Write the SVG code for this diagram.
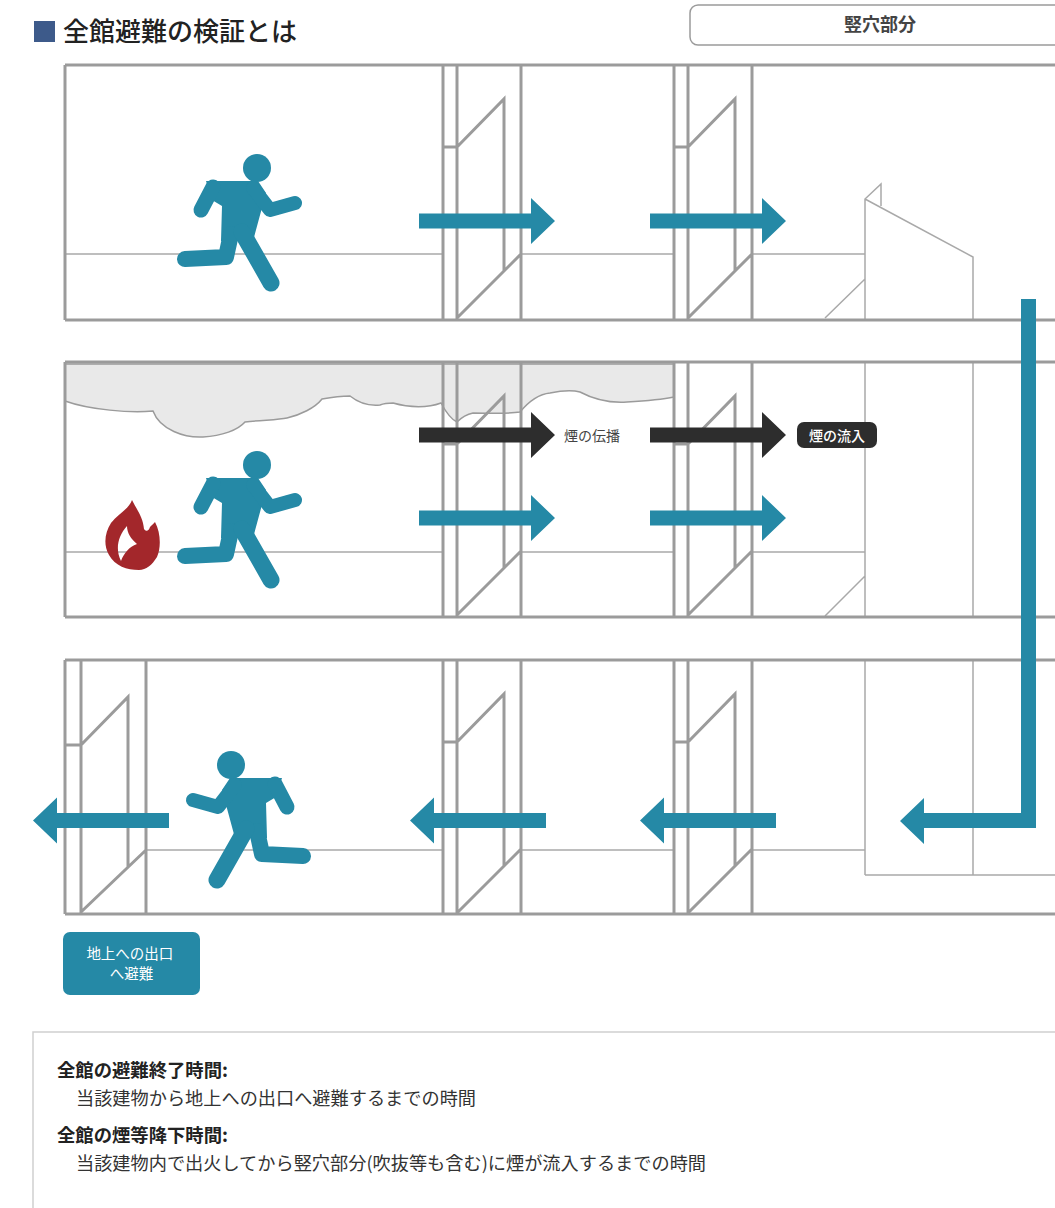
<svg xmlns="http://www.w3.org/2000/svg" xmlns:xlink="http://www.w3.org/1999/xlink" width="1055" height="1208" viewBox="0 0 1055 1208">
  <style>
    .wall { stroke:#9b9b9b; stroke-width:3; fill:none; }
    .thin { stroke:#a9a9a9; stroke-width:1.5; fill:none; }
    .teal { fill:#2589a6; }
    .dark { fill:#2d2d2d; }
    .jp { font-family:"Noto Sans CJK JP","Noto Sans",sans-serif; }
    .body { font-size:18px; fill:#333; }
    .head { font-size:18px; font-weight:bold; fill:#222; }
  </style>
  <defs>
    <!-- door frame with an opened door leaf, local origin = frame's top-left, floor height 255 -->
    <g id="door" class="wall">
      <path d="M0,0 V255 M14,0 V255 M78,0 V255 M0,82 H14 M14,82 L61,34 V206 M14,253 L78,189"/>
    </g>
    <!-- running pictogram -->
    <g id="runner" class="teal">
      <circle cx="257" cy="168" r="14"/>
      <polygon points="206,181 258,181 266,193 253,241 221,241 222,206 212,200"/>
      <g fill="none" stroke="#2589a6" stroke-linecap="round" stroke-linejoin="round">
        <path d="M213,187 L201,210" stroke-width="15"/>
        <path d="M253,188 L270,210 L295,203" stroke-width="14"/>
        <path d="M231,234 L226,257 L185,259" stroke-width="16"/>
        <path d="M242,232 L271,283" stroke-width="17"/>
      </g>
    </g>
    <polygon id="arrowR" points="0,-7.5 112,-7.5 112,-23 136,0 112,23 112,7.5 0,7.5"/>
  </defs>

  <!-- heading -->
  <g id="title">
    <rect x="34" y="21" width="21" height="21" fill="#3d5a8a"/>
    <text x="63" y="41" class="jp" font-size="26" font-weight="500" fill="#222">全館避難の検証とは</text>
  </g>

  <g id="shaft-label">
    <rect x="690" y="5" width="400" height="40" rx="8" fill="#fff" stroke="#9b9b9b" stroke-width="1.5"/>
    <text x="880" y="31" class="jp" font-size="18" font-weight="bold" fill="#444" text-anchor="middle">竪穴部分</text>
  </g>

  <!-- floor 1 -->
  <g id="floor1">
    <path class="thin" d="M65,254 H443 M521,254 H674 M752,254 H865"/>
    <path class="thin" d="M865,320 V199 L881,184 V206 M865,199 L973,257 V320 M825,318 L865,279"/>
    <path class="wall" d="M65,65 H1055 M65,320 H1055 M65,65 V320"/>
    <use href="#door" x="443" y="65"/>
    <use href="#door" x="674" y="65"/>
  </g>

  <!-- floor 2 (fire floor, smoke layer under the ceiling) -->
  <g id="floor2">
    <path id="smoke" fill="#e9e9e9" stroke="#9b9b9b" stroke-width="1.5"
      d="M65,364 V401 C90,410 130,413 153,411 C160,430 185,438 203,437 C222,436 238,430 245,422 C262,420 278,420 287,418 C300,415 315,408 322,399 C333,397 342,396 350,396 C360,404 370,406 380,405 C385,403 390,403 393,403 C410,408 428,408 441,403 C447,414 452,420 457,422 C462,417 468,414 473,413 C490,413 508,414 520,412 C530,400 540,394 550,393 C560,391 572,390 580,392 C595,400 612,403 627,402 C645,401 660,400 674,397 V364 Z"/>
    <path class="thin" d="M65,552 H443 M521,552 H674 M752,552 H865"/>
    <path class="thin" d="M865,362 V617 M973,362 V617 M825,616 L865,576"/>
    <path class="wall" d="M65,362 H1055 M65,617 H1055 M65,362 V617"/>
    <use href="#door" x="443" y="362"/>
    <use href="#door" x="674" y="362"/>
  </g>

  <!-- floor 3 (ground floor with exit) -->
  <g id="floor3">
    <path class="thin" d="M146,850 H443 M521,850 H674 M752,850 H865"/>
    <path class="thin" d="M865,660 V875 M973,660 V875 M865,875 H1055"/>
    <path class="wall" d="M65,660 H1055 M65,914 H1055 M65,660 V914"/>
    <path class="wall" d="M81,660 V914 M146,660 V914 M65,745 H81 M81,745 L128,697 V867 M81,912 L146,850"/>
    <use href="#door" x="443" y="660"/>
    <use href="#door" x="674" y="660"/>
  </g>

  <!-- fire source -->
  <g id="fire">
    <path fill="#a3272b" fill-rule="evenodd"
      d="M132,500 C137,510 143,517 144,529 C146,532 149,531 150,527 C152,525 154,523 155,522 C161,533 161,548 157,557 C152,565 146,570 139,570 C127,570 115,566 109,555 C103,545 105,532 111,523 C118,514 129,509 132,500 Z
         M127,526 C118,536 115,549 121,561 C124,553 129,547 137,544 C131,539 127,533 127,526 Z"/>
  </g>

  <!-- evacuees -->
  <g id="person1"><use href="#runner"/></g>
  <g id="person2"><use href="#runner" transform="translate(0,297)"/></g>
  <g id="person3"><use href="#runner" transform="translate(488,597) scale(-1,1)"/></g>

  <!-- flow arrows -->
  <g id="connectors">
    <use href="#arrowR" class="teal" transform="translate(419,221)"/>
    <use href="#arrowR" class="teal" transform="translate(650,221)"/>
    <use href="#arrowR" class="dark" transform="translate(419,435)"/>
    <use href="#arrowR" class="dark" transform="translate(650,435)"/>
    <use href="#arrowR" class="teal" transform="translate(419,518)"/>
    <use href="#arrowR" class="teal" transform="translate(650,518)"/>
    <use href="#arrowR" class="teal" transform="translate(169,820.5) scale(-1,1)"/>
    <use href="#arrowR" class="teal" transform="translate(546,820.5) scale(-1,1)"/>
    <use href="#arrowR" class="teal" transform="translate(776,820.5) scale(-1,1)"/>
    <polygon class="teal" points="1021,299 1036,299 1036,828 924,828 924,844 900,821 924,798 924,813 1021,813"/>
  </g>

  <g id="label-spread">
    <text x="592" y="441" class="jp" font-size="14" fill="#444" text-anchor="middle">煙の伝播</text>
  </g>
  <g id="label-inflow">
    <rect x="797" y="422" width="80" height="26" rx="7" fill="#2d2d2d"/>
    <text x="837" y="441" class="jp" font-size="14" font-weight="500" fill="#fff" text-anchor="middle">煙の流入</text>
  </g>

  <g id="exit-label">
    <rect x="63" y="932" width="137" height="63" rx="7" fill="#2589a6"/>
    <text class="jp" font-size="14.5" fill="#fff" text-anchor="middle">
      <tspan x="131.5" y="959">地上への出口</tspan>
      <tspan x="131.5" y="979">へ避難</tspan>
    </text>
  </g>

  <!-- definitions box -->
  <g id="notes">
    <rect x="33" y="1032" width="1100" height="300" fill="#fff" stroke="#cfcfcf" stroke-width="1.5"/>
    <text x="57" y="1077" class="jp head" textLength="171" lengthAdjust="spacingAndGlyphs">全館の避難終了時間:</text>
    <text x="76" y="1105" class="jp body" textLength="400" lengthAdjust="spacingAndGlyphs">当該建物から地上への出口へ避難するまでの時間</text>
    <text x="57" y="1142" class="jp head" textLength="171" lengthAdjust="spacingAndGlyphs">全館の煙等降下時間:</text>
    <text x="76" y="1170" class="jp body" textLength="630" lengthAdjust="spacingAndGlyphs">当該建物内で出火してから竪穴部分(吹抜等も含む)に煙が流入するまでの時間</text>
  </g>
</svg>
